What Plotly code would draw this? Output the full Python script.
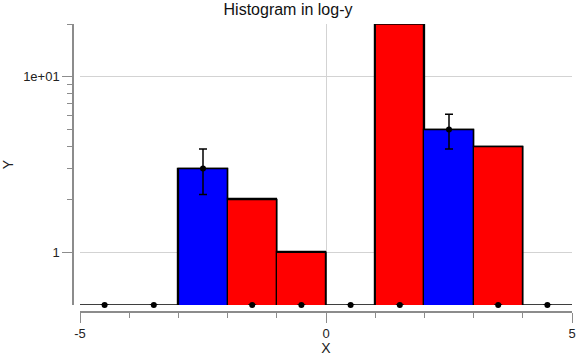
import math
import plotly.graph_objects as go

# ---- data ----
bin_edges = [-5, -4, -3, -2, -1, 0, 1, 2, 3, 4, 5]
hist_counts = [0, 0, 3, 2, 1, 0, 20, 5, 4, 0]
point_counts = [0, 0, 3, 0, 0, 0, 0, 5, 0, 0]
point_errors = [0, 0, 0.87, 0, 0, 0, 0, 1.12, 0, 0]
bar_colors = ["red", "red", "blue", "red", "red", "red", "red", "blue", "red", "red"]
y_min, y_max = 0.5, 20

centers = [(bin_edges[i] + bin_edges[i + 1]) / 2 for i in range(len(hist_counts))]

fig = go.Figure()

fig.add_trace(go.Bar(
    x=centers,
    y=[c if c > 0 else None for c in hist_counts],
    width=1,
    marker=dict(color=bar_colors, line=dict(color="black", width=1.2)),
    showlegend=False,
))

# step outline (zero bins drawn on the floor)
step_x = bin_edges
step_y = [c if c > 0 else y_min for c in hist_counts] + [hist_counts[-1] if hist_counts[-1] > 0 else y_min]
fig.add_trace(go.Scatter(
    x=step_x, y=step_y, mode="lines",
    line=dict(color="black", width=1.5, shape="hv"),
    showlegend=False, hoverinfo="skip",
))

fig.add_trace(go.Scatter(
    x=centers,
    y=[p if p > 0 else y_min for p in point_counts],
    mode="markers",
    marker=dict(color="black", size=6),
    error_y=dict(type="data", array=point_errors, color="black", thickness=1.5, width=4),
    cliponaxis=False,
    showlegend=False,
))

axis_gray = "#8c8c8c"
fig.update_layout(
    width=576, height=356,
    margin=dict(l=73, r=4, t=24, b=44),
    paper_bgcolor="white", plot_bgcolor="white",
    font=dict(family="Liberation Sans, Arial, sans-serif", size=13, color="#222"),
    title=dict(text="Histogram in log-y", x=0.5, xanchor="center", y=0.975, yanchor="middle",
               font=dict(size=16, color="#111")),
    bargap=0,
    xaxis=dict(
        domain=[7 / 499, 1], anchor="free", position=0, automargin=False,
        range=[-5, 5],
        tickmode="array", tickvals=[-5, 0, 5], ticktext=["-5", "0", "5"],
        ticks="outside", ticklen=10, tickwidth=1, tickcolor=axis_gray,
        minor=dict(tickmode="array", tickvals=list(range(-5, 6)), ticks="outside",
                   ticklen=5, tickwidth=1, tickcolor=axis_gray, showgrid=False),
        showline=True, linecolor=axis_gray, linewidth=1.5,
        showgrid=True, gridcolor="#d3d3d3", gridwidth=1,
        zeroline=False,
        title=dict(text="X", font=dict(size=14), standoff=1),
    ),
    yaxis=dict(
        type="log",
        domain=[7 / 288, 1], anchor="free", position=0, automargin=False,
        range=[math.log10(y_min), math.log10(y_max)],
        tickmode="array", tickvals=[1, 10], ticktext=["1", "1e+01"],
        ticks="outside", ticklen=10, tickwidth=1, tickcolor=axis_gray,
        minor=dict(tickmode="array", tickvals=[2, 3, 4, 5, 6, 7, 8, 9, 20], ticks="outside",
                   ticklen=5, tickwidth=1, tickcolor=axis_gray, showgrid=False),
        showline=True, linecolor=axis_gray, linewidth=1.5,
        showgrid=True, gridcolor="#d3d3d3", gridwidth=1,
        zeroline=False,
        title=dict(text="Y", font=dict(size=14), standoff=14),
    ),
)

fig.write_html(
    "out.html",
    config={"displayModeBar": False},
    post_script="document.body.style.margin='0';document.body.style.overflow='hidden';",
)
